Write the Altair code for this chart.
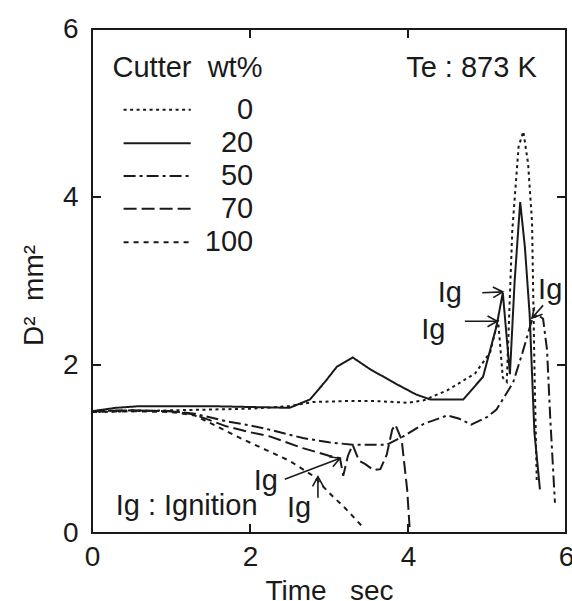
import math
import altair as alt
import pandas as pd

# ---------------- data ----------------
SERIES = ["0", "20", "50", "70", "100"]

T0 = [0, 0.5, 1.0, 1.5, 2.0, 2.5, 2.8, 3.2, 3.6, 4.0, 4.2, 4.5, 4.85, 5.04, 5.14, 5.2, 5.25, 5.32, 5.4, 5.46, 5.52, 5.57, 5.6, 5.63]
D0 = [1.44, 1.45, 1.46, 1.47, 1.48, 1.51, 1.56, 1.57, 1.57, 1.55, 1.58, 1.70, 1.90, 2.15, 2.54, 1.85, 1.80, 3.60, 4.60, 4.78, 4.40, 3.70, 2.00, 0.60]

T20 = [0, 0.3, 0.6, 1.0, 1.5, 2.0, 2.5, 2.76, 2.95, 3.1, 3.3, 3.52, 3.86, 4.1, 4.28, 4.7, 4.95, 5.12, 5.2, 5.29, 5.35, 5.42, 5.48, 5.54, 5.6, 5.67]
D20 = [1.45, 1.49, 1.51, 1.51, 1.51, 1.50, 1.49, 1.59, 1.80, 1.98, 2.09, 1.95, 1.77, 1.65, 1.59, 1.59, 1.86, 2.46, 2.86, 1.89, 3.00, 3.94, 3.40, 2.60, 1.20, 0.52]

T50 = [0, 0.5, 1.0, 1.3, 1.7, 2.0, 2.25, 2.67, 3.0, 3.3, 3.73, 3.94, 4.2, 4.5, 4.65, 4.8, 5.0, 5.12, 5.33, 5.45, 5.57, 5.64, 5.71, 5.76, 5.8, 5.86]
D50 = [1.45, 1.46, 1.45, 1.42, 1.33, 1.28, 1.23, 1.13, 1.08, 1.05, 1.05, 1.15, 1.30, 1.40, 1.36, 1.29, 1.38, 1.47, 1.79, 2.15, 2.54, 2.60, 2.55, 2.18, 1.38, 0.36]

T70 = [0, 0.5, 1.0, 1.3, 1.7, 2.0, 2.25, 2.67, 3.0, 3.14, 3.18, 3.24, 3.3, 3.38, 3.46, 3.56, 3.65, 3.73, 3.8, 3.84, 3.92, 3.99, 4.02]
D70 = [1.45, 1.46, 1.45, 1.41, 1.27, 1.20, 1.15, 1.01, 0.92, 0.89, 0.68, 0.92, 1.05, 0.86, 0.82, 0.75, 0.76, 0.93, 1.23, 1.29, 1.11, 0.51, 0.07]

T100 = [0, 0.5, 1.0, 1.3, 1.6, 1.9, 2.2, 2.5, 2.8, 3.0, 3.2, 3.43]
D100 = [1.44, 1.45, 1.44, 1.40, 1.26, 1.12, 0.99, 0.86, 0.68, 0.48, 0.30, 0.07]

X_TICKS = [0, 2, 4, 6]
Y_TICKS = [0, 2, 4, 6]
INNER_TICKS = [2, 4]

NB = "\u00a0"
LEGEND_TITLE = "Cutter" + NB + NB + "wt%"
TEMP_LABEL = "Te : 873 K"
IGN_NOTE = "Ig : Ignition"
IG_TEXT = "Ig"
X_TITLE = "Time" + NB + NB + NB + "sec"
Y_TITLE = "D²" + NB + NB + "mm²"

# ---------------- layout / style ----------------
INK = "#1a1a1a"
FONT = "Liberation Sans"
FS = 28      # axis text
FT = 29      # in-plot text
W, H = 474, 504
XMAX, YMAX = 6, 6
PX_X, PX_Y = W / XMAX, H / YMAX

DASHES = [[3, 3.5], [1, 0], [12, 4, 3, 4], [13, 5], [5, 5]]

# legend placement (data units)
LEG_TITLE_POS = (0.26, 5.53)
TEMP_POS = (5.63, 5.53)
LEG_ROW_Y = [5.04, 4.64, 4.25, 3.86, 3.46]
LEG_LINE_X = (0.40, 1.25)
LEG_LABEL_X = 2.04
IGN_NOTE_POS = (0.30, 0.32)

# Ig annotation placement: label, arrow tail, arrow tip
IG_LABEL_X = [4.53, 4.32, 5.80, 2.20, 2.62]
IG_LABEL_Y = [2.86, 2.42, 2.89, 0.62, 0.30]
ARROW_X1 = [4.94, 4.72, 5.71, 2.44, 2.86]
ARROW_Y1 = [2.86, 2.52, 2.71, 0.64, 0.42]
ARROW_X2 = [5.20, 5.13, 5.57, 3.14, 2.86]
ARROW_Y2 = [2.87, 2.52, 2.56, 0.89, 0.67]

TICK_LEN = 9  # px

# ---------------- frames ----------------
rows = []
for s, ts, ds in zip(SERIES, [T0, T20, T50, T70, T100], [D0, D20, D50, D70, D100]):
    for i, (t, d) in enumerate(zip(ts, ds)):
        rows.append({"series": s, "t": t, "d": d, "i": i})
curves = pd.DataFrame(rows)

legend_lines = pd.DataFrame({
    "series": SERIES, "t": [LEG_LINE_X[0]] * 5, "t2": [LEG_LINE_X[1]] * 5, "d": LEG_ROW_Y,
})
legend_labels = pd.DataFrame({"label": SERIES, "t": [LEG_LABEL_X] * 5, "d": LEG_ROW_Y})

texts_left = pd.DataFrame({
    "label": [LEGEND_TITLE, IGN_NOTE],
    "t": [LEG_TITLE_POS[0], IGN_NOTE_POS[0]],
    "d": [LEG_TITLE_POS[1], IGN_NOTE_POS[1]],
})
texts_right = pd.DataFrame({"label": [TEMP_LABEL], "t": [TEMP_POS[0]], "d": [TEMP_POS[1]]})
ig_labels = pd.DataFrame({"label": [IG_TEXT] * len(IG_LABEL_X), "t": IG_LABEL_X, "d": IG_LABEL_Y})

arrows = pd.DataFrame({"t": ARROW_X1, "d": ARROW_Y1, "t2": ARROW_X2, "d2": ARROW_Y2})
heads = pd.DataFrame({
    "t": ARROW_X2, "d": ARROW_Y2,
    "ang": [math.degrees(math.atan2(-(y2 - y1) * PX_Y, (x2 - x1) * PX_X)) % 360
            for x1, y1, x2, y2 in zip(ARROW_X1, ARROW_Y1, ARROW_X2, ARROW_Y2)],
})

tl_x = TICK_LEN / PX_X
tl_y = TICK_LEN / PX_Y
tick_rows = []
for v in INNER_TICKS:
    tick_rows.append({"t": v, "t2": v, "d": 0, "d2": tl_y})
    tick_rows.append({"t": v, "t2": v, "d": YMAX, "d2": YMAX - tl_y})
    tick_rows.append({"t": 0, "t2": tl_x, "d": v, "d2": v})
    tick_rows.append({"t": XMAX, "t2": XMAX - tl_x, "d": v, "d2": v})
ticks = pd.DataFrame(tick_rows)

# ---------------- encodings ----------------
xs = alt.Scale(domain=[0, XMAX], nice=False, zero=False)
ys = alt.Scale(domain=[0, YMAX], nice=False, zero=False)

xaxis = alt.Axis(values=X_TICKS, title=X_TITLE, titleFont=FONT, titleFontSize=FS,
                 titleFontWeight="normal", titleColor=INK, titleY=66, titleBaseline="alphabetic",
                 labelFont=FONT, labelFontSize=FS, labelColor=INK, labelPadding=10,
                 labelFlush=False, labelOverlap=False, ticks=False, tickSize=0,
                 domain=False, grid=False)
yaxis = alt.Axis(values=Y_TICKS, title=Y_TITLE, titleFont=FONT, titleFontSize=FS,
                 titleFontWeight="normal", titleColor=INK, titleAngle=270, titleX=-50, titleY=266,
                 titleAlign="center", titleBaseline="alphabetic",
                 labelFont=FONT, labelFontSize=FS, labelColor=INK, labelPadding=14,
                 labelFlush=False, labelOverlap=False, ticks=False, tickSize=0,
                 domain=False, grid=False)

X = alt.X("t:Q", scale=xs, axis=xaxis)
Y = alt.Y("d:Q", scale=ys, axis=yaxis)
DASH = alt.StrokeDash("series:N", scale=alt.Scale(domain=SERIES, range=DASHES), legend=None)

lines = alt.Chart(curves).mark_line(color=INK, strokeWidth=2).encode(
    x=X, y=Y, detail="series:N", strokeDash=DASH, order="i:Q")

leg_lines = alt.Chart(legend_lines).mark_rule(color=INK, strokeWidth=2).encode(
    x=X, x2="t2:Q", y=Y, strokeDash=DASH)

leg_text = alt.Chart(legend_labels).mark_text(
    font=FONT, fontSize=FT, color=INK, align="right", baseline="middle").encode(x=X, y=Y, text="label:N")

left_text = alt.Chart(texts_left).mark_text(
    font=FONT, fontSize=FT, color=INK, align="left", baseline="middle").encode(x=X, y=Y, text="label:N")

right_text = alt.Chart(texts_right).mark_text(
    font=FONT, fontSize=FT, color=INK, align="right", baseline="middle").encode(x=X, y=Y, text="label:N")

ig_text = alt.Chart(ig_labels).mark_text(
    font=FONT, fontSize=FT, color=INK, align="center", baseline="middle").encode(x=X, y=Y, text="label:N")

shafts = alt.Chart(arrows).mark_rule(color=INK, strokeWidth=1.6).encode(
    x=X, y=Y, x2="t2:Q", y2="d2:Q")

arrowheads = alt.Chart(heads).mark_point(
    shape="M-1,-0.55L0,0L-1,0.55", filled=False, size=380, color=INK, strokeWidth=1.6, opacity=1
).encode(x=X, y=Y, angle=alt.Angle("ang:Q", scale=None))

tick_marks = alt.Chart(ticks).mark_rule(color=INK, strokeWidth=2).encode(
    x=X, y=Y, x2="t2:Q", y2="d2:Q")

chart = alt.layer(
    lines, leg_lines, leg_text, left_text, right_text, ig_text, shafts, arrowheads, tick_marks
).properties(
    width=W, height=H,
    autosize=alt.AutoSizeParams(type="none"),
    padding={"left": 92, "top": 29, "right": 6, "bottom": 68},
    background="white",
).configure_view(stroke=INK, strokeWidth=2)

chart.save("out.html", embed_options={"renderer": "svg", "actions": False})
